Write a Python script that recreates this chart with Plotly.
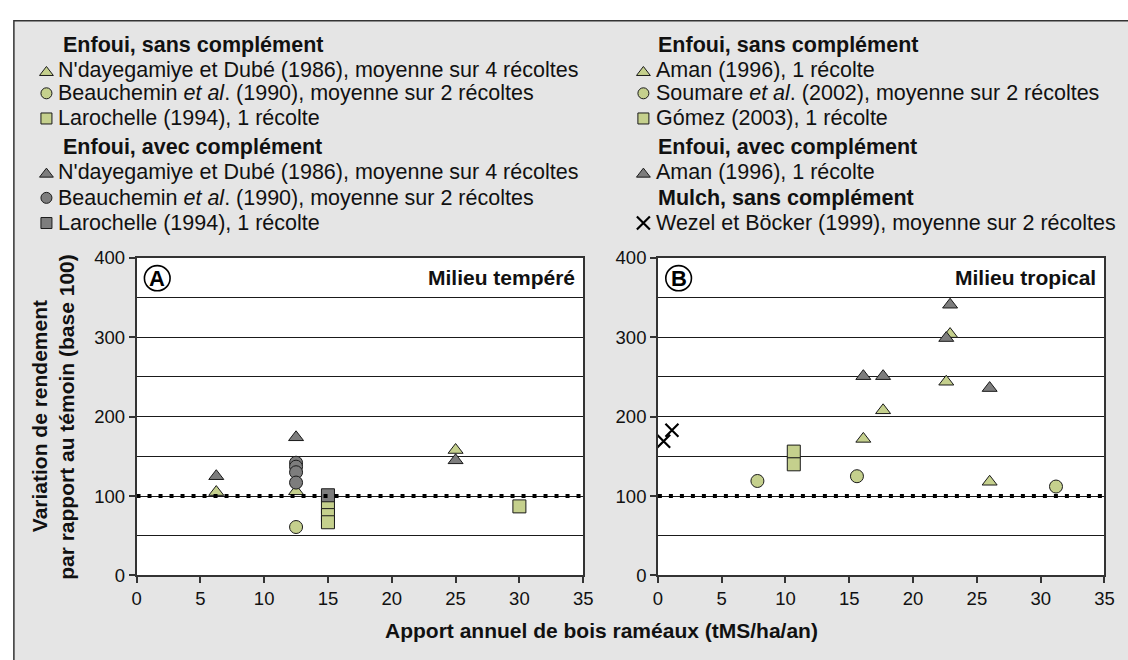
import plotly.graph_objects as go

W, H = 1128, 660

# ---------------- data ----------------
x_tick_vals = [0, 5, 10, 15, 20, 25, 30, 35]
y_tick_vals = [0, 100, 200, 300, 400]
base_ref = 100  # témoin (base 100)

# Panel A - Milieu tempéré
nd_sans_x = [6.25, 12.5, 25.0]
nd_sans_y = [105, 106, 158]
nd_avec_x = [6.25, 12.5, 25.0]
nd_avec_y = [125, 174, 145]
beau_sans_x = [12.5]
beau_sans_y = [61]
beau_avec_x = [12.5, 12.5, 12.5, 12.5]
beau_avec_y = [142, 137, 130, 117]
laro_sans_x = [15, 15, 15, 30]
laro_sans_y = [86, 76, 67, 87]
laro_avec_x = [15]
laro_avec_y = [101]

# Panel B - Milieu tropical
aman_sans_x = [16.1, 17.65, 22.6, 22.9, 26.0]
aman_sans_y = [172, 208, 244, 304, 118]
aman_avec_x = [16.1, 17.65, 22.6, 22.9, 26.0]
aman_avec_y = [251, 251, 299, 341, 236]
soum_x = [7.8, 15.6, 31.2]
soum_y = [119, 125, 112]
gomez_x = [10.65, 10.65]
gomez_y = [156, 140]
wezel_x = [0.45, 1.1]
wezel_y = [169, 183]

# ---------------- styles ----------------
GREEN = "#c5d08d"
GRAY = "#7d7d7d"
EDGE = "#1a1a1a"
FONT = "Liberation Sans, Arial, Helvetica, sans-serif"
TXT = "#111111"
LEG_FS = 21.5
TICK_FS = 18.5
TITLE_FS = 21

def px(p):
    return p / W

def py(p):
    return 1 - p / H

A_X = (133.3, 586.0)
B_X = (661.7, 1114.3)
P_Y = (255.0, 583.0)

fig = go.Figure()

def pts(x, y, symbol, color, size, xa, ya, lw=1):
    fig.add_trace(go.Scatter(
        x=x, y=y, mode="markers", xaxis=xa, yaxis=ya, showlegend=False,
        marker=dict(symbol=symbol, color=color, size=size,
                    line=dict(color=EDGE, width=lw)),
        hoverinfo="skip"))

def refline(xa, ya):
    fig.add_trace(go.Scatter(
        x=[x_tick_vals[0], x_tick_vals[-1]], y=[base_ref, base_ref],
        mode="lines", xaxis=xa, yaxis=ya, showlegend=False,
        line=dict(color="#000000", width=4, dash="4px,7px"), hoverinfo="skip"))

# Panel A traces
pts(nd_avec_x, nd_avec_y, "triangle-up", GRAY, 13, "x", "y")
pts(nd_sans_x, nd_sans_y, "triangle-up", GREEN, 13, "x", "y")
pts(beau_sans_x, beau_sans_y, "circle", GREEN, 13, "x", "y")
pts(beau_avec_x, beau_avec_y, "circle", GRAY, 13, "x", "y")
pts(laro_sans_x, laro_sans_y, "square", GREEN, 13, "x", "y")
pts(laro_avec_x, laro_avec_y, "square", GRAY, 13, "x", "y")
refline("x", "y")

# Panel B traces
pts(soum_x, soum_y, "circle", GREEN, 13, "x2", "y2")
pts(gomez_x, gomez_y, "square", GREEN, 13, "x2", "y2")
pts(aman_sans_x, aman_sans_y, "triangle-up", GREEN, 13, "x2", "y2")
pts(aman_avec_x, aman_avec_y, "triangle-up", GRAY, 13, "x2", "y2")
fig.add_trace(go.Scatter(
    x=wezel_x, y=wezel_y, mode="markers", xaxis="x2", yaxis="y2", showlegend=False,
    marker=dict(symbol="x-thin", size=13, line=dict(color="#000000", width=2.2)),
    hoverinfo="skip"))
refline("x2", "y2")

# ---------------- custom legends (overlay pixel axis) ----------------
left_entries = [
    ("h", None, "Enfoui, sans complément"),
    ("triangle-up", GREEN, "N'dayegamiye et Dubé (1986), moyenne sur 4 récoltes"),
    ("circle", GREEN, "Beauchemin <i>et al</i>. (1990), moyenne sur 2 récoltes"),
    ("square", GREEN, "Larochelle (1994), 1 récolte"),
    ("h", None, "Enfoui, avec complément"),
    ("triangle-up", GRAY, "N'dayegamiye et Dubé (1986), moyenne sur 4 récoltes"),
    ("circle", GRAY, "Beauchemin <i>et al</i>. (1990), moyenne sur 2 récoltes"),
    ("square", GRAY, "Larochelle (1994), 1 récolte"),
]
right_entries = [
    ("h", None, "Enfoui, sans complément"),
    ("triangle-up", GREEN, "Aman (1996), 1 récolte"),
    ("circle", GREEN, "Soumare <i>et al</i>. (2002), moyenne sur 2 récoltes"),
    ("square", GREEN, "Gómez (2003), 1 récolte"),
    ("h", None, "Enfoui, avec complément"),
    ("triangle-up", GRAY, "Aman (1996), 1 récolte"),
    ("h", None, "Mulch, sans complément"),
    ("x-thin", "#000000", "Wezel et Böcker (1999), moyenne sur 2 récoltes"),
]
row_y = [35, 61, 85, 111, 140, 166, 193, 219]

annotations = []

def build_legend(entries, mx, tx, hx):
    for (sym, col, label), yy in zip(entries, row_y):
        if sym == "h":
            annotations.append(dict(
                x=px(hx), y=py(yy), xref="paper", yref="paper", text="<b>%s</b>" % label,
                showarrow=False, xanchor="left", yanchor="middle",
                font=dict(family=FONT, size=LEG_FS, color=TXT)))
        else:
            annotations.append(dict(
                x=px(tx), y=py(yy), xref="paper", yref="paper", text=label,
                showarrow=False, xanchor="left", yanchor="middle",
                font=dict(family=FONT, size=LEG_FS, color=TXT)))
            if sym == "x-thin":
                mk = dict(symbol=sym, size=13, line=dict(color="#000000", width=2.2))
            elif sym == "triangle-up":
                mk = dict(symbol=sym, color=col, size=12, line=dict(color=EDGE, width=1))
            else:
                mk = dict(symbol=sym, color=col, size=11, line=dict(color=EDGE, width=1))
            dy = 2.5 if sym == "triangle-up" else 0
            fig.add_trace(go.Scatter(
                x=[mx], y=[yy + dy], mode="markers", xaxis="x3", yaxis="y3",
                showlegend=False, marker=mk, hoverinfo="skip"))

build_legend(left_entries, 42, 52, 57)
build_legend(right_entries, 647, 658, 660)

# ---------------- panel titles ----------------
for ax, x0, letter, title in [("x", A_X[0], "A", "Milieu tempéré"),
                              ("x2", B_X[0], "B", "Milieu tropical")]:
    annotations.append(dict(
        x=0.985, y=375, xref=ax + " domain", yref="y" if ax == "x" else "y2",
        text="<b>%s</b>" % title, showarrow=False, xanchor="right", yanchor="middle",
        font=dict(family=FONT, size=TITLE_FS, color=TXT)))
    annotations.append(dict(
        x=px(x0 + 21), y=py(276), xref="paper", yref="paper",
        text="<b>%s</b>" % letter, showarrow=False, xanchor="center", yanchor="middle",
        font=dict(family=FONT, size=22, color="#000")))

# axis titles
annotations.append(dict(
    x=px(605), y=py(640), xref="paper", yref="paper",
    text="<b>Apport annuel de bois raméaux (tMS/ha/an)</b>", showarrow=False,
    xanchor="center", yanchor="middle", font=dict(family=FONT, size=TITLE_FS, color=TXT)))
annotations.append(dict(
    x=px(35), y=py(419), xref="paper", yref="paper",
    text="<b>Variation de rendement</b>", showarrow=False, textangle=-90,
    xanchor="center", yanchor="middle", font=dict(family=FONT, size=TITLE_FS, color=TXT)))
annotations.append(dict(
    x=px(63), y=py(419), xref="paper", yref="paper",
    text="<b>par rapport au témoin (base 100)</b>", showarrow=False, textangle=-90,
    xanchor="center", yanchor="middle", font=dict(family=FONT, size=TITLE_FS, color=TXT)))

# ---------------- shapes ----------------
shapes = [
    dict(type="rect", xref="paper", yref="paper", x0=px(9), y0=-0.05, x1=1.05, y1=py(10),
         fillcolor="#e5e5e5", line=dict(color="#333333", width=1.5), layer="below"),
]
for ax, ay in [("x", "y"), ("x2", "y2")]:
    shapes.append(dict(type="rect", xref=ax + " domain", yref=ay + " domain",
                       x0=0, y0=0, x1=1, y1=1, fillcolor="#ffffff",
                       line=dict(width=0), layer="below"))
for x0 in (A_X[0], B_X[0]):
    cx, cy, r = x0 + 21, 276, 13
    shapes.append(dict(type="circle", xref="paper", yref="paper",
                       x0=px(cx - r), x1=px(cx + r), y0=py(cy + r), y1=py(cy - r),
                       line=dict(color="#000000", width=1.6), fillcolor="rgba(0,0,0,0)"))

# ---------------- axes ----------------
def xaxis(dom):
    return dict(domain=dom, range=[x_tick_vals[0], x_tick_vals[-1]],
                tickvals=x_tick_vals, ticks="outside", ticklen=6, tickwidth=1.5,
                tickcolor="#333", showgrid=False, zeroline=False,
                showline=True, linecolor="#333", linewidth=1.5, mirror=True,
                tickfont=dict(family=FONT, size=TICK_FS, color=TXT), fixedrange=True)

def yaxis(anchor):
    return dict(domain=[py(P_Y[1]), py(P_Y[0])], range=[y_tick_vals[0], y_tick_vals[-1]],
                tickvals=y_tick_vals, ticks="outside", ticklen=6, tickwidth=1.5,
                tickcolor="#333", showgrid=True, gridcolor="#1a1a1a", gridwidth=1.2,
                minor=dict(dtick=50, tick0=0, showgrid=True, gridcolor="#1a1a1a", gridwidth=1.2),
                zeroline=False, showline=True, linecolor="#333", linewidth=1.5,
                mirror=True, anchor=anchor,
                tickfont=dict(family=FONT, size=TICK_FS, color=TXT), fixedrange=True)

fig.update_layout(
    width=W, height=H, margin=dict(l=0, r=0, t=0, b=0),
    paper_bgcolor="#ffffff", plot_bgcolor="rgba(0,0,0,0)",
    showlegend=False,
    xaxis=dict(xaxis([px(A_X[0]), px(A_X[1])]), anchor="y"),
    yaxis=yaxis("x"),
    xaxis2=dict(xaxis([px(B_X[0]), px(B_X[1])]), anchor="y2"),
    yaxis2=yaxis("x2"),
    xaxis3=dict(domain=[0, 1], range=[0, W], visible=False, anchor="y3", fixedrange=True),
    yaxis3=dict(domain=[0, 1], range=[H, 0], visible=False, anchor="x3", fixedrange=True),
    annotations=annotations, shapes=shapes,
)

fig.write_html("out.html", post_script="document.body.style.margin='0';",
               config={"displayModeBar": False})
